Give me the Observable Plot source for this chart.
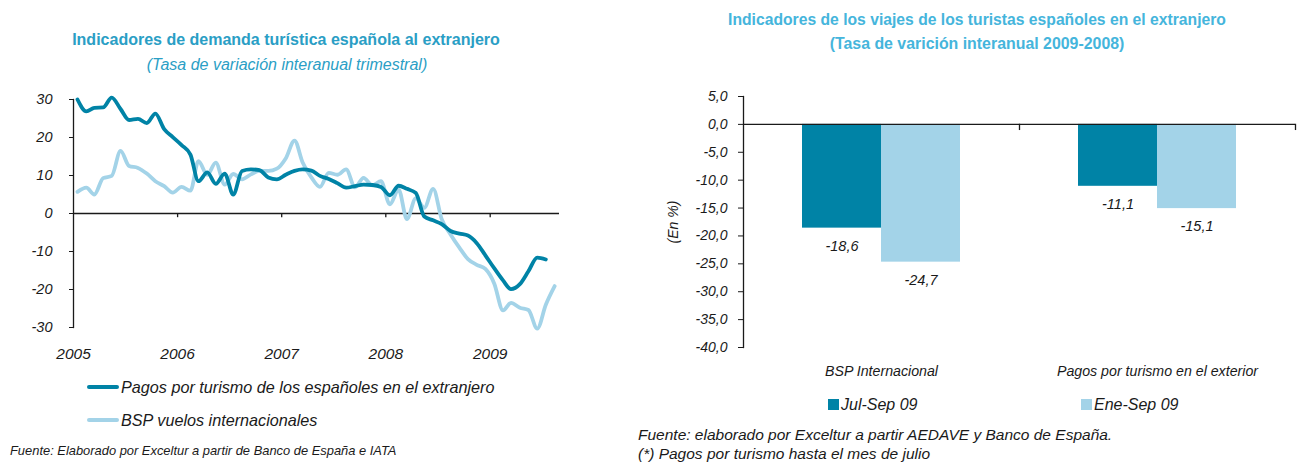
<!DOCTYPE html>
<html>
<head>
<meta charset="utf-8">
<script src="https://cdn.jsdelivr.net/npm/d3@7"></script>
<script src="https://cdn.jsdelivr.net/npm/@observablehq/plot@0.6"></script>
<style>
  body { margin: 0; background: #fff; }
  #wrap { position: relative; width: 1304px; height: 467px; overflow: hidden; font-family: "Liberation Sans", Arial, sans-serif; color: #1a1a1a; }
  .t { position: absolute; white-space: nowrap; line-height: 1; }
  .c { transform: translate(-50%, -50%); }
  .l { transform: translate(0, -50%); }
  .it { font-style: italic; }
  .plot { position: absolute; top: 0; }
</style>
</head>
<body>
<div id="wrap">
  <div class="t c" style="left:286px;top:40px;font-size:16px;font-weight:bold;color:#2a9ec5;">Indicadores de demanda turística española al extranjero</div>
  <div class="t c it" style="left:287px;top:65px;font-size:16px;color:#2a9ec5;">(Tasa de variación interanual trimestral)</div>

  <div class="t c" style="left:977px;top:20px;font-size:15.7px;font-weight:bold;color:#45b5dc;">Indicadores de los viajes de los turistas españoles en el extranjero</div>
  <div class="t c" style="left:977px;top:44px;font-size:15.9px;font-weight:bold;color:#45b5dc;">(Tasa de varición interanual 2009-2008)</div>

  <div id="left" class="plot" style="left:0px;"></div>
  <div id="right" class="plot" style="left:620px;"></div>

  <div class="t it" style="left:673px;top:222px;font-size:14px;transform:translate(-50%,-50%) rotate(-90deg);">(En %)</div>

  <div id="legLeft"></div>
  <div id="legRight"></div>

  <div class="t l it" style="left:10px;top:451px;font-size:12.9px;">Fuente: Elaborado por Exceltur a partir de Banco de España e IATA</div>
  <div class="t l it" style="left:638px;top:435px;font-size:15.5px;">Fuente: elaborado por Exceltur a partir AEDAVE y Banco de España.</div>
  <div class="t l it" style="left:638px;top:454px;font-size:15.5px;">(*) Pagos por turismo hasta el mes de julio</div>
</div>
<script>
// ---------- data: left chart (monthly, from Jan 2005) ----------
const lineSeries = ["Pagos por turismo de los españoles en el extranjero", "BSP vuelos internacionales"];
const startYear = 2005;
const pagosValues = [
  30.0, 26.9, 27.8, 27.9, 30.5, 27.5, 24.6, 24.9, 23.8, 26.3, 22.2, 20.1,
  18.0, 15.5, 8.5, 10.8, 7.8, 10.5, 5.0, 11.2, 11.6, 11.4, 9.5, 9.0,
  10.2, 11.2, 11.6, 11.3, 9.9, 9.1, 8.0, 6.8, 7.2, 7.6, 7.5, 7.0,
  4.8, 7.3, 6.5, 5.4, -0.8, -1.8, -2.8, -4.6, -5.3, -5.8, -7.8, -11.0,
  -14.4, -17.6, -19.9, -18.6, -15.2, -11.6, -12.1
];
const bspValues = [
  5.7, 6.8, 5.0, 9.3, 9.9, 16.5, 12.5, 12.0, 10.5, 8.5, 7.2, 5.5,
  7.0, 6.0, 13.8, 10.2, 13.4, 7.6, 10.4, 9.0, 10.3, 11.2, 11.2, 11.8,
  14.5, 19.2, 13.5, 9.5, 7.0, 10.7, 10.2, 11.6, 6.9, 9.4, 7.4, 8.5,
  2.4, 6.3, -1.5, 4.0, 1.5, 6.5, -1.5, -5.5, -9.0, -12.0, -13.5, -14.6,
  -18.4, -25.5, -23.5, -24.8, -25.4, -30.3, -24.0, -19.1
];
const yearTicks = [2005, 2006, 2007, 2008, 2009];
const leftYTicks = [-30, -20, -10, 0, 10, 20, 30];

// ---------- data: right chart ----------
const barCategories = ["BSP Internacional", "Pagos por turismo en el exterior"];
const barSeries = ["Jul-Sep 09", "Ene-Sep 09"];
const julSepValues = [-18.6, -11.1];
const eneSepValues = [-24.7, -15.1];
const rightYTicks = [5, 0, -5, -10, -15, -20, -25, -30, -35, -40];

// ---------- colours ----------
const dark = "#0083a6";
const light = "#a3d3e8";

// ---------- left chart ----------
const monthDate = (i) => new Date(Date.UTC(startYear, i, 15));
const pagosData = pagosValues.map((v, i) => ({date: monthDate(i), value: v}));
const bspData = bspValues.map((v, i) => ({date: monthDate(i), value: v}));
const yearDates = yearTicks.map((y) => new Date(Date.UTC(y, 0, 1)));

const leftW = 600, leftH = 467;
const leftPlot = Plot.plot({
  width: leftW, height: leftH,
  marginLeft: 73, marginRight: leftW - 559, marginTop: 99, marginBottom: leftH - 327,
  x: {type: "utc", domain: [new Date(Date.UTC(2005, 0, 1)), new Date(Date.UTC(2009, 8, 1))], label: null},
  y: {domain: [-30, 30], label: null},
  style: {fontFamily: "'Liberation Sans', Arial, sans-serif", fontStyle: "italic", fontSize: "14px", color: "#1a1a1a", background: "transparent"},
  marks: [
    Plot.axisY(leftYTicks, {tickSize: 4, tickPadding: 17, fontSize: 14.5, tickFormat: (d) => String(d), label: null}),
    Plot.axisX(yearDates, {tickSize: 0, tickPadding: 20, fontSize: 15.5, tickFormat: (d) => String(d.getUTCFullYear()), label: null}),
    Plot.frame({anchor: "left", stroke: "#1a1a1a", strokeWidth: 1.3}),
    Plot.ruleY([0], {stroke: "#1a1a1a", strokeWidth: 1.3}),
    Plot.ruleX(yearDates.slice(1), {y1: 0, y2: -1.1, stroke: "#1a1a1a", strokeWidth: 1.3}),
    Plot.lineY(bspData, {x: "date", y: "value", stroke: light, strokeWidth: 3.8, curve: "monotone-x"}),
    Plot.lineY(pagosData, {x: "date", y: "value", stroke: dark, strokeWidth: 3.8, curve: "monotone-x"})
  ]
});
document.getElementById("left").appendChild(leftPlot);

// ---------- right chart ----------
const barData = barCategories.flatMap((c, i) => [
  {cat: c, series: barSeries[0], value: julSepValues[i]},
  {cat: c, series: barSeries[1], value: eneSepValues[i]}
]);
const fmt = (v) => d3.format(".1f")(v).replace("\u2212", "-").replace(".", ",");

const rW = 684, rH = 467, rMT = 96, rMB = 120;
const yPix = d3.scaleLinear([-40, 5], [rH - rMB, rMT]);
const zeroTickLen = 5;

const rightPlot = Plot.plot({
  width: rW, height: rH,
  marginLeft: 122, marginRight: 9, marginTop: rMT, marginBottom: rMB,
  fx: {domain: barCategories, padding: 0, label: null},
  x: {domain: barSeries, paddingInner: 0, paddingOuter: 0.73, axis: null},
  y: {domain: [-40, 5], label: null},
  color: {domain: barSeries, range: [dark, light]},
  style: {fontFamily: "'Liberation Sans', Arial, sans-serif", fontStyle: "italic", fontSize: "14px", color: "#1a1a1a", background: "transparent"},
  marks: [
    Plot.barY(barData, {fx: "cat", x: "series", y: "value", fill: "series"}),
    Plot.ruleY([0], {stroke: "#1a1a1a", strokeWidth: 1.3}),
    Plot.text(barData, {fx: "cat", x: "series", y: "value", text: (d) => fmt(d.value), dy: 18, fontSize: 14.5, fill: "#1a1a1a"}),
    Plot.axisY(rightYTicks, {tickSize: 5, tickPadding: 11, fontSize: 14, tickFormat: fmt, facetAnchor: "left", label: null}),
    Plot.frame({anchor: "left", facetAnchor: "left", stroke: "#1a1a1a", strokeWidth: 1.3}),
    Plot.frame({anchor: "right", stroke: "#1a1a1a", strokeWidth: 1.3,
      insetTop: yPix(0) - rMT, insetBottom: (rH - rMB) - (yPix(0) + zeroTickLen)}),
    Plot.axisFx({anchor: "bottom", tickSize: 0, tickPadding: 18, fontSize: 14.2, label: null})
  ]
});
document.getElementById("right").appendChild(rightPlot);

// ---------- legends ----------
const legLeft = document.getElementById("legLeft");
[dark, light].forEach((col, i) => {
  const yc = 387 + i * 33;
  const sw = document.createElement("div");
  sw.style.cssText = `position:absolute;left:87px;top:${yc - 2}px;width:32px;height:4px;border-radius:2px;background:${col};`;
  legLeft.appendChild(sw);
  const tx = document.createElement("div");
  tx.className = "t l it";
  tx.style.cssText = `left:121px;top:${yc}px;font-size:16.2px;`;
  tx.textContent = lineSeries[i];
  legLeft.appendChild(tx);
});

const legRight = document.getElementById("legRight");
[dark, light].forEach((col, i) => {
  const x0 = [828, 1081][i];
  const sw = document.createElement("div");
  sw.style.cssText = `position:absolute;left:${x0}px;top:399px;width:11px;height:11px;background:${col};`;
  legRight.appendChild(sw);
  const tx = document.createElement("div");
  tx.className = "t l it";
  tx.style.cssText = `left:${x0 + 13}px;top:405px;font-size:16px;`;
  tx.textContent = barSeries[i];
  legRight.appendChild(tx);
});
</script>
</body>
</html>
